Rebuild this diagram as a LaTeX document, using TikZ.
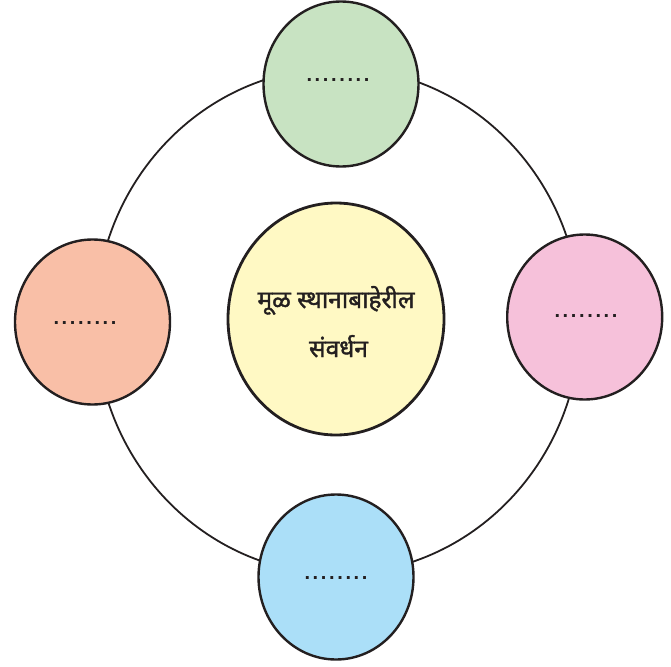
\documentclass[tikz,border=0pt]{standalone}
\usepackage{fontspec}
\setmainfont{Liberation Sans}
\newfontfamily\deva[Script=Devanagari, FakeBold=1.6]{Noto Sans}
\usetikzlibrary{shapes.geometric}
\definecolor{ink}{HTML}{231F20}
\definecolor{cgreen}{HTML}{C8E3C2}
\definecolor{corange}{HTML}{F9BFA7}
\definecolor{cpink}{HTML}{F6C1DA}
\definecolor{cblue}{HTML}{ABDFF8}
\definecolor{cyellow}{HTML}{FFF9C4}
\newcommand{\onedot}{\makebox[8.2pt]{.}}
\newcommand{\dotrow}{\onedot\onedot\onedot\onedot\onedot\onedot\onedot\onedot}
\tikzset{
  bubble/.style={ellipse, draw=ink, line width=2.4pt, inner sep=0pt,
    minimum width=155pt, minimum height=165pt},
  hub/.style={ellipse, draw=ink, line width=2.8pt, inner sep=0pt, fill=cyellow,
    minimum width=216pt, minimum height=232pt},
  ring/.style={draw=ink, line width=1.8pt},
  dotlabel/.style={inner sep=0pt, text=ink, font=\bfseries\fontsize{20}{20}\selectfont},
  hublabel/.style={inner sep=0pt, text=ink, font=\deva\fontsize{24.5}{28}\selectfont}
}
\begin{document}
\begin{tikzpicture}[x=1pt, y=-1pt]
\useasboundingbox (0,0) rectangle (671,666);
\coordinate (ringc) at (338,321);
\draw[ring] (ringc) ellipse [x radius=242.5pt, y radius=253pt];
\node[hub] (hub) at (336,319) {};
\node[bubble, fill=cgreen] (top) at (341,84) {};
\node[bubble, fill=corange] (left) at (92.5,322) {};
\node[bubble, fill=cpink] (right) at (584.7,317) {};
\node[bubble, fill=cblue] (bottom) at (336,577) {};
\node[dotlabel] (topdots) at (338,79.7) {\dotrow};
\node[dotlabel] (leftdots) at (85,322.7) {\dotrow};
\node[dotlabel] (rightdots) at (586,315.7) {\dotrow};
\node[dotlabel] (bottomdots) at (336,577.7) {\dotrow};
\node[hublabel, anchor=base] (line1) at (336,308) {मूळ स्थानाबाहेरील};
\node[hublabel, anchor=base] (line2) at (338.5,357) {संवर्धन};
\end{tikzpicture}
\end{document}
